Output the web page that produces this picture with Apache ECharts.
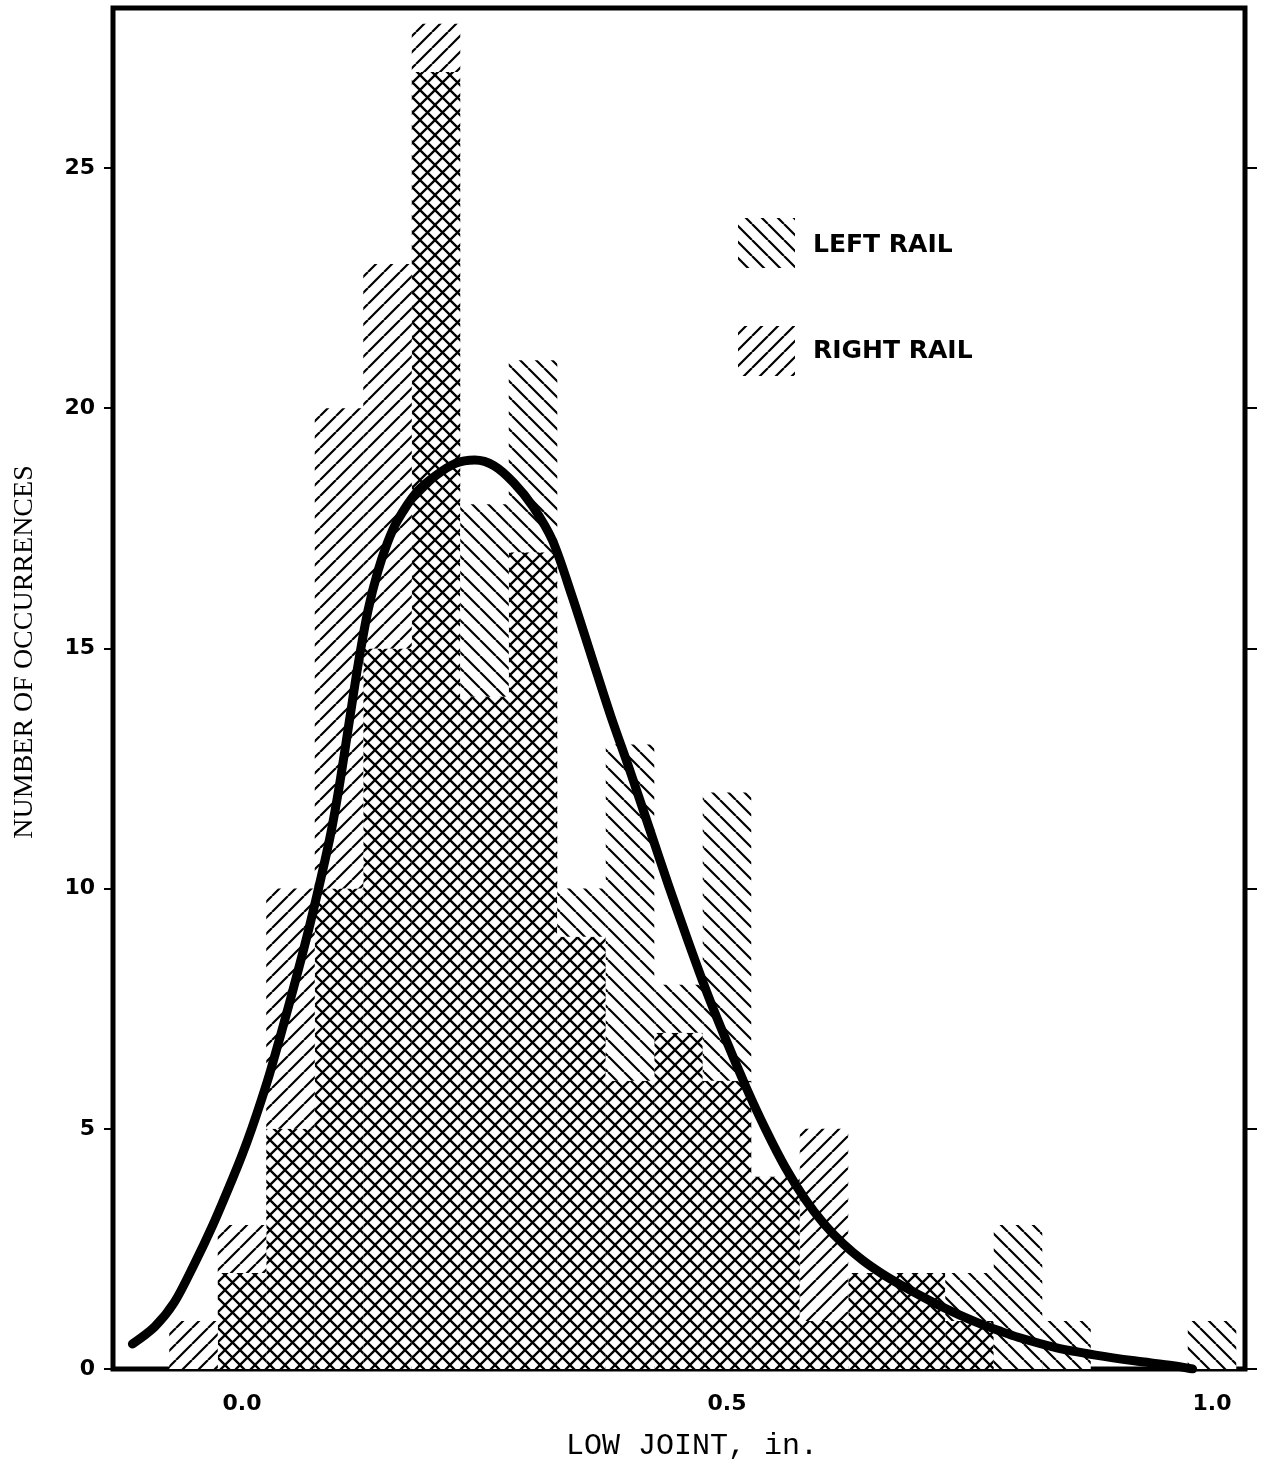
<!DOCTYPE html>
<html>
<head>
<meta charset="utf-8">
<script src="https://cdn.jsdelivr.net/npm/echarts@6/dist/echarts.min.js"></script>
<style>
  html, body { margin: 0; padding: 0; background: #fff; }
  #chart { width: 1263px; height: 1466px; }
</style>
</head>
<body>
<div id="chart"></div>
<script>
// Histogram bins (low joint, inches): centre of each 0.05 in. class
const binCenters = [-0.05, 0.00, 0.05, 0.10, 0.15, 0.20, 0.25, 0.30, 0.35, 0.40, 0.45,
                    0.50, 0.55, 0.60, 0.65, 0.70, 0.75, 0.80, 0.85, 0.90, 0.95, 1.00];
const binWidth = 0.05;

// Number of occurrences per class
const leftRail  = [0, 2, 5, 10, 15, 27, 18, 21, 10, 13, 8, 12, 4, 1, 2, 2, 2, 3, 1, 0, 0, 1];
const rightRail = [1, 3, 10, 20, 23, 28, 14, 17, 9, 6, 7, 6, 4, 5, 2, 2, 1, 0, 0, 0, 0, 0];

// Fitted frequency curve
const curveX = [-0.113, -0.09, -0.07, -0.05, -0.03, -0.01, 0.00, 0.01, 0.02, 0.03,
                0.05, 0.07, 0.09, 0.10, 0.11, 0.12, 0.13, 0.14, 0.15, 0.16,
                0.18, 0.20, 0.22, 0.24, 0.26, 0.28, 0.30, 0.32, 0.34, 0.36,
                0.38, 0.40, 0.42, 0.44, 0.46, 0.48, 0.50, 0.52, 0.54, 0.56,
                0.58, 0.60, 0.62, 0.64, 0.66, 0.68, 0.70, 0.72, 0.74, 0.76,
                0.78, 0.80, 0.84, 0.88, 0.92, 0.96, 0.98];
const curveY = [0.52, 0.88, 1.38, 2.15, 3.0, 3.95, 4.45, 5.0, 5.6, 6.25,
                7.7, 9.25, 11.0, 12.1, 13.4, 14.7, 15.8, 16.6, 17.2, 17.65,
                18.25, 18.6, 18.85, 18.92, 18.8, 18.45, 17.95, 17.25, 16.1, 14.85,
                13.6, 12.45, 11.25, 10.05, 8.9, 7.8, 6.8, 5.85, 4.98, 4.2,
                3.55, 3.02, 2.6, 2.26, 1.98, 1.74, 1.52, 1.31, 1.12, 0.95,
                0.8, 0.66, 0.44, 0.29, 0.17, 0.07, 0.0];

// Axis ticks
const yTicks = [0, 5, 10, 15, 20, 25];
const xTicks = [0, 0.5, 1.0];

// ---- hatch patterns --------------------------------------------------------
function hatchTile(slash, back, period, lw) {
  const c = document.createElement('canvas');
  c.width = period; c.height = period;
  const g = c.getContext('2d');
  g.fillStyle = '#fff';
  g.fillRect(0, 0, period, period);
  g.strokeStyle = '#000';
  g.lineWidth = lw;
  g.beginPath();
  for (let k = -1; k <= 1; k++) {
    if (slash) { g.moveTo(k * period, period); g.lineTo(k * period + period, 0); }
    if (back)  { g.moveTo(k * period, 0); g.lineTo(k * period + period, period); }
  }
  g.stroke();
  return { image: c, repeat: 'repeat' };
}
const patLeft  = hatchTile(false, true, 16, 2.2);   // "\\\\" left rail
const patRight = hatchTile(true, false, 16, 2.2);   // "////" right rail
const patBoth  = hatchTile(true, true, 15, 2.3);    // overlap of both rails

// ---- layered histogram data -------------------------------------------------
const bothData = [], leftOnly = [], rightOnly = [];
binCenters.forEach((c, i) => {
  const lo = Math.min(leftRail[i], rightRail[i]);
  if (lo > 0) bothData.push([c, 0, lo]);
  if (leftRail[i] > lo) leftOnly.push([c, lo, leftRail[i]]);
  if (rightRail[i] > lo) rightOnly.push([c, lo, rightRail[i]]);
});

function binRenderer(pattern) {
  return function (params, api) {
    const c = api.value(0), lo = api.value(1), hi = api.value(2);
    const a = api.coord([c - binWidth / 2, hi]);
    const b = api.coord([c + binWidth / 2, lo]);
    return {
      type: 'rect',
      shape: { x: a[0], y: a[1], width: b[0] - a[0], height: b[1] - a[1] },
      style: { fill: pattern, stroke: null }
    };
  };
}

function binSeries(name, data, pattern) {
  return {
    name: name,
    type: 'custom',
    xAxisIndex: 0, yAxisIndex: 0,
    renderItem: binRenderer(pattern),
    encode: { x: 0, y: [1, 2] },
    data: data,
    clip: true,
    z: 2,
    silent: true
  };
}

const labelFont = { color: '#000', fontFamily: 'DejaVu Sans', fontSize: 22, fontWeight: 'bold' };

const chart = echarts.init(document.getElementById('chart'), null, { renderer: 'canvas' });

chart.setOption({
  animation: false,
  backgroundColor: '#fff',
  grid: {
    left: 113, right: 18, top: 8, bottom: 97,
    show: true, borderColor: '#000', borderWidth: 5, backgroundColor: 'transparent'
  },
  xAxis: {
    type: 'value',
    min: -0.133, max: 1.034,
    axisLine: { show: false, onZero: false },
    axisTick: { show: false },
    splitLine: { show: false },
    axisLabel: Object.assign({
      customValues: xTicks,
      margin: 24,
      formatter: v => v.toFixed(1)
    }, labelFont)
  },
  yAxis: [
    {
      type: 'value', position: 'left',
      min: 0, max: 28.33, interval: 5,
      axisLine: { show: false, onZero: false },
      axisTick: { show: true, inside: false, length: 9, lineStyle: { color: '#000', width: 2 }, customValues: yTicks },
      splitLine: { show: false },
      axisLabel: Object.assign({
        customValues: yTicks,
        margin: 18,
        formatter: v => (v % 5 === 0 ? String(v) : '')
      }, labelFont)
    },
    {
      type: 'value', position: 'right',
      min: 0, max: 28.33, interval: 5,
      axisLine: { show: false, onZero: false },
      axisTick: { show: true, inside: false, length: 12, lineStyle: { color: '#000', width: 2 }, customValues: yTicks },
      splitLine: { show: false },
      axisLabel: { show: false }
    }
  ],
  series: [
    binSeries('Both rails', bothData, patBoth),
    binSeries('Left rail', leftOnly, patLeft),
    binSeries('Right rail', rightOnly, patRight),
    {
      name: 'Fitted curve',
      type: 'line',
      data: curveX.map((x, i) => [x, curveY[i]]),
      smooth: 0.3,
      showSymbol: false,
      symbol: 'none',
      lineStyle: { color: '#000', width: 9, cap: 'round', join: 'round' },
      z: 10,
      silent: true
    }
  ],
  graphic: [
    // legend
    { type: 'rect', shape: { x: 738, y: 218, width: 57, height: 50 }, style: { fill: patLeft }, z: 20 },
    { type: 'text', x: 813, y: 245, style: { text: 'LEFT RAIL', fill: '#000', font: 'bold 25px "DejaVu Sans"', textVerticalAlign: 'middle' }, z: 20 },
    { type: 'rect', shape: { x: 738, y: 326, width: 57, height: 50 }, style: { fill: patRight }, z: 20 },
    { type: 'text', x: 813, y: 351, style: { text: 'RIGHT RAIL', fill: '#000', font: 'bold 25px "DejaVu Sans"', textVerticalAlign: 'middle' }, z: 20 },
    // axis titles
    { type: 'text', x: 25, y: 652, rotation: Math.PI / 2,
      style: { text: 'NUMBER OF OCCURRENCES', fill: '#000', font: '28px "Liberation Serif"', textAlign: 'center', textVerticalAlign: 'middle' }, z: 20 },
    { type: 'text', x: 692, y: 1446,
      style: { text: 'LOW JOINT, in.', fill: '#000', font: '30px "Liberation Mono"', textAlign: 'center', textVerticalAlign: 'middle' }, z: 20 }
  ]
});
</script>
</body>
</html>
